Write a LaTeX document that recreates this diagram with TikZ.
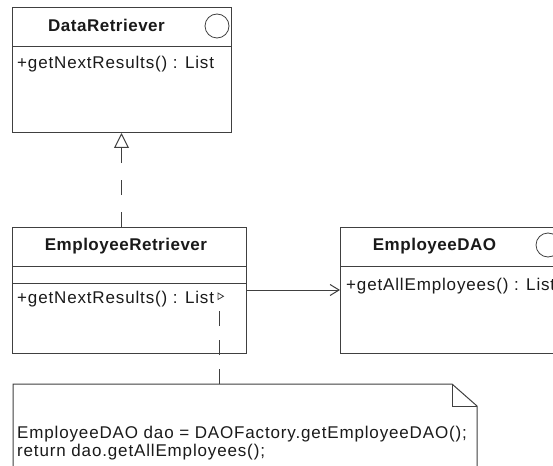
\documentclass[tikz,border=0pt]{standalone}
\usepackage{fontspec}
\setmainfont{Liberation Sans}[LetterSpace=5]
\newfontfamily\hdfont{Liberation Sans}[LetterSpace=3]
\usetikzlibrary{arrows.meta}
\definecolor{ln}{HTML}{404040}
\definecolor{tx}{HTML}{1A1A1A}
\begin{document}
\begin{tikzpicture}[x=1pt,y=-1pt,
  box/.style={draw=ln, line width=1pt, anchor=north west, inner sep=0pt, outer sep=0pt},
  hd/.style={font=\hdfont\bfseries\fontsize{17}{20}\selectfont, text=tx, inner sep=0pt, anchor=base},
  op/.style={font=\fontsize{17}{20}\selectfont, text=tx, inner sep=0pt, anchor=base west},
  div/.style={draw=ln, line width=1pt},
  icon/.style={draw=ln, line width=0.8pt},
  conn/.style={draw=ln, line width=1pt}
]
\useasboundingbox (0,0) rectangle (553,465);
\fill[white] (0,0) rectangle (553,465);
\clip (0,0) rectangle (553,465);

% DataRetriever
\node[box, minimum width=219pt, minimum height=125pt] (dr) at (12,8) {};
\draw[div] (12,47) -- (231,47);
\draw[icon] (217,26) circle[radius=12];
\node[hd] (drn) at (106.5,31.5) {DataRetriever};
\node[op] (drop) at (17,68.3) {+getNextResults() : List};

% EmployeeRetriever
\node[box, minimum width=234pt, minimum height=126pt] (er) at (12,227) {};
\draw[div] (12,266) -- (246,266);
\draw[div] (12,283) -- (246,283);
\node[hd] (ern) at (126,250) {EmployeeRetriever};
\node[op] (erop) at (17,303) {+getNextResults() : List};
\draw[icon] (218,293) -- (223.5,296.3) -- (218,299.5) -- cycle;
\coordinate (anc) at (219,300);

% EmployeeDAO
\node[box, minimum width=240pt, minimum height=126pt] (dao) at (340,227) {};
\draw[div] (340,266) -- (580,266);
\draw[icon] (548,245) circle[radius=12];
\node[hd] (daon) at (434.5,250) {EmployeeDAO};
\node[op] (daoop) at (346,290) {+getAllEmployees() : List};

% Note
\node[inner sep=0pt, outer sep=0pt, minimum width=464pt, minimum height=100pt, anchor=north west] (note) at (13,384) {};
\draw[div] (note.south west) -- (note.north west) -- ([xshift=-25pt]note.north east) -- ([yshift=-22pt]note.north east) -- (note.south east);
\draw[div] ([xshift=-25pt]note.north east) -- ([xshift=-25pt,yshift=-22pt]note.north east) -- ([yshift=-22pt]note.north east);
\node[op] (n1) at (17,438.5) {EmployeeDAO dao = DAOFactory.getEmployeeDAO();};
\node[op] (n2) at (17,456) {return dao.getAllEmployees();};

% Connectors
\draw[conn, dash pattern=on 15pt off 17pt, -{Triangle[open, length=15pt, width=15pt, line width=1pt]}] (er.north -| dr.south) -- (dr.south);
\draw[conn, -{Straight Barb[length=9pt, width=11pt, line width=1pt]}] (er.east) -- (er.east -| dao.west);
\draw[conn, dash pattern=on 15pt off 14pt] (note.north -| anc) -- (anc);
\end{tikzpicture}
\end{document}
